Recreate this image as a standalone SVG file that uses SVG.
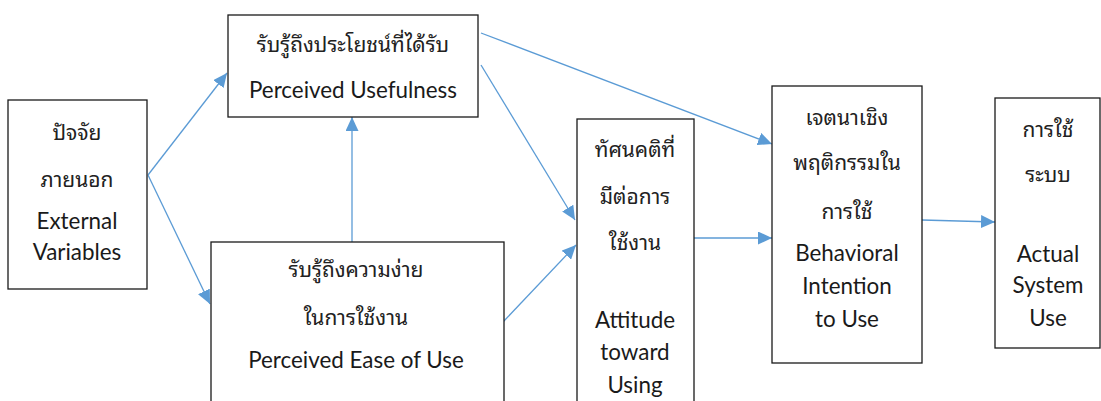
<svg xmlns="http://www.w3.org/2000/svg" width="1101" height="401" viewBox="0 0 1101 401">
  <style>
    .box { fill: #ffffff; stroke: #1a1a1a; stroke-width: 1.3; }
    .en { font-family: Lato, "Noto Sans", sans-serif; font-size: 22.4px; fill: #1a1a1a; text-anchor: middle; }
    .th { font-family: "Noto Sans Thai Looped", "Noto Sans Thai", "Noto Sans", sans-serif; font-size: 21px; fill: #222222; text-anchor: middle; }
    .link { stroke: #5b9bd5; stroke-width: 1.3; fill: none; marker-end: url(#arrow); }
  </style>
  <defs>
    <marker id="arrow" markerUnits="userSpaceOnUse" markerWidth="15" markerHeight="13" viewBox="0 0 15 13" refX="14" refY="6.5" orient="auto">
      <path d="M0,0 L14,6.5 L0,13 Z" fill="#5b9bd5"/>
    </marker>
  </defs>
  <rect width="1101" height="401" fill="#ffffff"/>

  <g id="connectors">
    <line class="link" x1="148" y1="175" x2="227" y2="73"/>
    <line class="link" x1="148" y1="175" x2="210" y2="304"/>
    <line class="link" x1="352" y1="242" x2="352" y2="117"/>
    <line class="link" x1="481" y1="65" x2="575" y2="220"/>
    <line class="link" x1="481" y1="33" x2="772" y2="144"/>
    <line class="link" x1="503" y1="322" x2="576" y2="245"/>
    <line class="link" x1="694" y1="238" x2="772" y2="238"/>
    <line class="link" x1="922" y1="220" x2="995" y2="222"/>
  </g>

  <g id="external-variables">
    <rect class="box" x="8" y="100" width="139" height="189"/>
    <text class="th" x="77" y="140">ปัจจัย</text>
    <text class="th" x="77" y="187">ภายนอก</text>
    <text class="en" x="77" y="229">External</text>
    <text class="en" x="77" y="260">Variables</text>
  </g>

  <g id="perceived-usefulness">
    <rect class="box" x="228" y="15" width="250" height="102"/>
    <text class="th" x="353" y="52">รับรู้ถึงประโยชน์ที่ได้รับ</text>
    <text class="en" x="353" y="98">Perceived Usefulness</text>
  </g>

  <g id="perceived-ease-of-use">
    <rect class="box" x="211" y="242" width="293" height="170"/>
    <text class="th" x="356" y="277">รับรู้ถึงความง่าย</text>
    <text class="th" x="356" y="325">ในการใช้งาน</text>
    <text class="en" x="356" y="368">Perceived Ease of Use</text>
  </g>

  <g id="attitude-toward-using">
    <rect class="box" x="577" y="119" width="117" height="293"/>
    <text class="th" x="635" y="157">ทัศนคติที่</text>
    <text class="th" x="635" y="204">มีต่อการ</text>
    <text class="th" x="635" y="250">ใช้งาน</text>
    <text class="en" x="635" y="328">Attitude</text>
    <text class="en" x="635" y="360">toward</text>
    <text class="en" x="635" y="393">Using</text>
  </g>

  <g id="behavioral-intention">
    <rect class="box" x="772" y="86" width="150" height="277"/>
    <text class="th" x="847" y="125">เจตนาเชิง</text>
    <text class="th" x="847" y="170">พฤติกรรมใน</text>
    <text class="th" x="847" y="219">การใช้</text>
    <text class="en" x="847" y="261">Behavioral</text>
    <text class="en" x="847" y="294">Intention</text>
    <text class="en" x="847" y="327">to Use</text>
  </g>

  <g id="actual-system-use">
    <rect class="box" x="995" y="98" width="105" height="250"/>
    <text class="th" x="1048" y="137">การใช้</text>
    <text class="th" x="1048" y="182">ระบบ</text>
    <text class="en" x="1048" y="262">Actual</text>
    <text class="en" x="1048" y="293">System</text>
    <text class="en" x="1048" y="326">Use</text>
  </g>
</svg>
